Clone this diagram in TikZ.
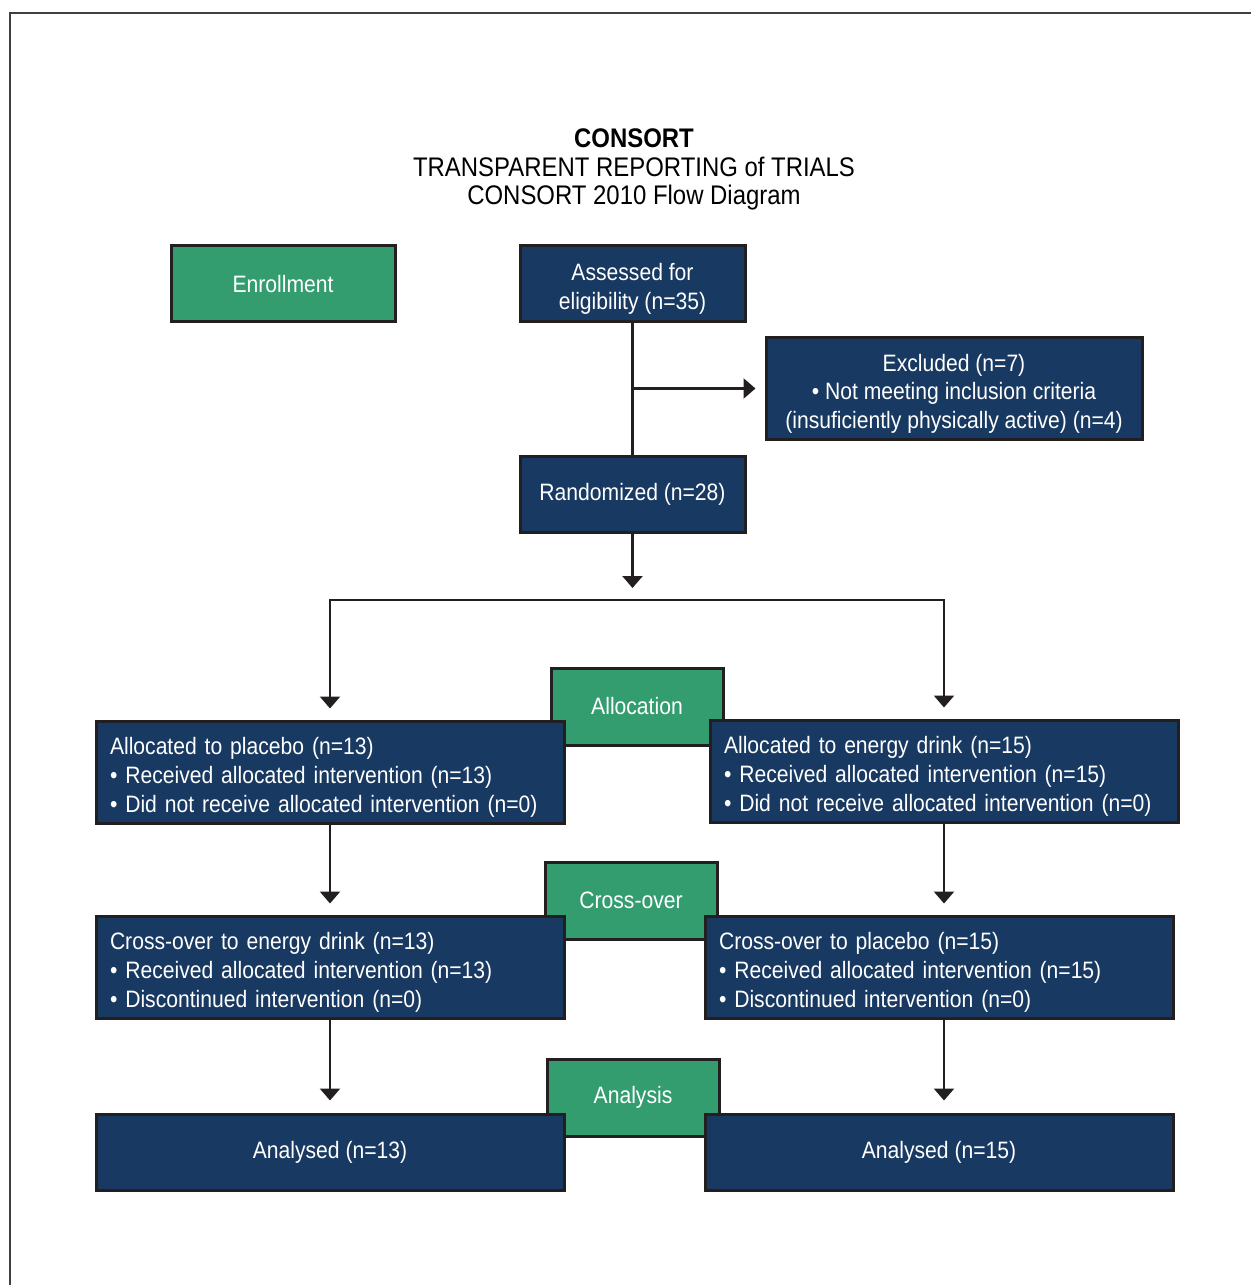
\documentclass[tikz,border=0pt]{standalone}
\usepackage{fontspec}
\setmainfont{Liberation Sans}[FakeStretch=0.89]
\usepackage{tikz}
\usetikzlibrary{arrows.meta,positioning}
\definecolor{consortblue}{RGB}{24,57,97}
\definecolor{consortgreen}{RGB}{52,157,112}
\definecolor{edgegray}{RGB}{35,31,32}
\newcommand{\boxfont}{\fontsize{13.5pt}{16.4pt}\selectfont}
\newcommand{\titlefont}{\fontsize{15.3pt}{16.2pt}\selectfont}

\begin{document}
\begin{tikzpicture}[
    box/.style={draw=edgegray, line width=0.6mm, align=center, inner sep=0pt, text=white, font=\boxfont},
    stage/.style={box, fill=consortgreen, minimum width=3.44cm, minimum height=1.54cm},
    panel/.style={box, fill=consortblue, minimum width=4.5cm, minimum height=1.52cm},
    listpanel/.style={panel, align=left, text width=8.8cm, inner xsep=0.28cm, minimum height=2.04cm},
    wide/.style={panel, minimum width=9.36cm},
    arrow/.style={-{Triangle[length=2.4mm, width=4mm]}, line width=0.5mm, draw=edgegray}
  ]
    \useasboundingbox (0,0) rectangle (25.02,-25.7);
    \draw[black!75, line width=0.35mm] (0.2,-25.7) -- (0.2,-0.26) -- (25.02,-0.26);
    \node[align=center, font=\titlefont] (title) at (12.68,-3.39)
      {\textbf{CONSORT}\\TRANSPARENT REPORTING of TRIALS\\CONSORT 2010 Flow Diagram};
    % stage labels first, the blue boxes overlap them
    \node[stage, minimum width=4.48cm, minimum height=1.52cm] (enrol) at (5.66,-5.68) {Enrollment};
    \node[stage] (alloc) at (12.74,-14.13) {Allocation};
    \node[stage] (cross) at (12.62,-18.01) {Cross-over};
    \node[stage] (analysis) at (12.66,-21.95) {Analysis};
    \node[panel] (assessed) at (12.65,-5.68) {\rule{0pt}{2.2ex}Assessed for\\eligibility (n=35)};
    \node[panel, minimum width=7.52cm, minimum height=2.02cm] (excluded) at (19.08,-7.77)
      {\rule{0pt}{2.2ex}Excluded (n=7)\\\textbullet\ Not meeting inclusion criteria\\(insuficiently physically active) (n=4)};
    \node[panel] (random) at (12.65,-9.88) {Randomized (n=28)};
    \coordinate (fork) at (12.65,-12.0);
    \node[listpanel] (allocP) at (6.6,-15.44)
      {\rule{0pt}{2.2ex}Allocated to placebo (n=13)\\\textbullet\ Received allocated intervention (n=13)\\\textbullet\ Did not receive allocated intervention (n=0)};
    \node[listpanel] (allocE) at (18.88,-15.42)
      {\rule{0pt}{2.2ex}Allocated to energy drink (n=15)\\\textbullet\ Received allocated intervention (n=15)\\\textbullet\ Did not receive allocated intervention (n=0)};
    \node[listpanel] (crossE) at (6.6,-19.34)
      {\rule{0pt}{2.2ex}Cross-over to energy drink (n=13)\\\textbullet\ Received allocated intervention (n=13)\\\textbullet\ Discontinued intervention (n=0)};
    \node[listpanel] (crossP) at (18.78,-19.34)
      {\rule{0pt}{2.2ex}Cross-over to placebo (n=15)\\\textbullet\ Received allocated intervention (n=15)\\\textbullet\ Discontinued intervention (n=0)};
    \node[wide] (anaP) at (6.6,-23.04) {Analysed (n=13)};
    \node[wide] (anaE) at (18.78,-23.04) {Analysed (n=15)};
    \draw[line width=0.5mm, edgegray] (assessed) -- (random);
    \draw[arrow, shorten >=1.8mm] (assessed.south |- excluded.west) -- (excluded.west);
    \draw[arrow, shorten >=2.4mm] (random) -- (fork);
    \draw[arrow, shorten >=2.2mm] (fork) -| (allocP.north);
    \draw[arrow, shorten >=2.2mm] (fork) -| (allocE.north);
    \draw[arrow, shorten >=2.2mm] (allocP) -- (crossE);
    \draw[arrow, shorten >=2.2mm] (allocE.south) -- (allocE.south |- crossP.north);
    \draw[arrow, shorten >=2.4mm] (crossE) -- (anaP);
    \draw[arrow, shorten >=2.4mm] (allocE.south |- crossP.south) -- (allocE.south |- anaE.north);
  \end{tikzpicture}
\end{document}
